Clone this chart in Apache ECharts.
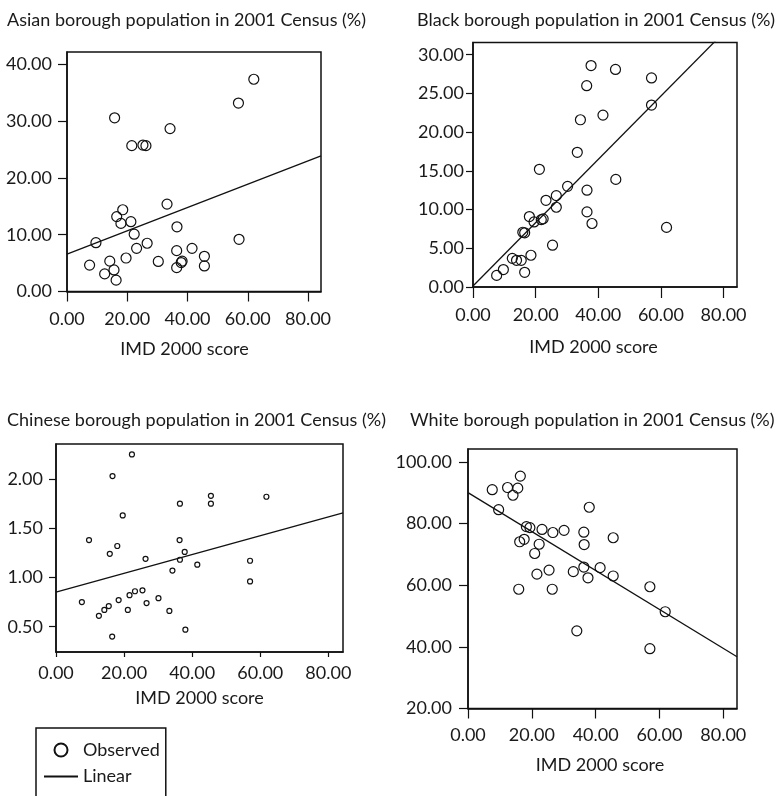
<!DOCTYPE html>
<html>
<head>
<meta charset="utf-8">
<script src="https://cdn.jsdelivr.net/npm/echarts@6/dist/echarts.min.js"></script>
<style>
  html, body { margin: 0; padding: 0; background: #fff; }
  #chart { width: 778px; height: 796px; }
</style>
</head>
<body>
<div id="chart"></div>
<script>
// IMD 2000 score vs borough population share, 2001 Census
const xTicks = [0, 20, 40, 60, 80];

const asianX = [7.5, 9.6, 12.5, 14.2, 15.6, 15.8, 16.3, 16.5, 17.9, 18.5, 19.6, 21.2, 21.5, 22.3, 23.1, 25.2, 26.2, 26.6, 30.3, 33.2, 34.2, 36.4, 36.4, 36.5, 37.9, 38.2, 41.5, 45.6, 45.6, 56.9, 57.1, 62.0];
const asianY = [4.65, 8.6, 3.1, 5.35, 3.8, 30.6, 2.0, 13.2, 12.0, 14.4, 5.9, 12.3, 25.7, 10.1, 7.6, 25.8, 25.7, 8.5, 5.3, 15.4, 28.7, 4.2, 7.2, 11.4, 5.1, 5.35, 7.6, 6.2, 4.5, 33.2, 9.2, 37.4];
const asianFit = [[0, 6.6], [84.3, 23.9]];
const asianTicks = [0, 10, 20, 30, 40];

const blackX = [7.55, 9.7, 12.55, 13.9, 15.4, 16.5, 15.9, 16.5, 18.5, 18.0, 19.5, 21.2, 21.8, 22.4, 23.3, 25.4, 26.6, 26.6, 30.2, 33.3, 34.3, 36.3, 36.4, 36.4, 37.7, 38.0, 41.5, 45.5, 45.6, 57.0, 57.0, 61.8];
const blackY = [1.5, 2.25, 3.7, 3.45, 3.45, 1.9, 7.07, 7.0, 4.1, 9.1, 8.4, 15.2, 8.7, 8.8, 11.2, 5.4, 11.8, 10.3, 13.0, 17.4, 21.6, 26.0, 12.5, 9.7, 28.6, 8.2, 22.2, 28.1, 13.9, 27.0, 23.5, 7.7];
const blackFit = [[0, 0.13], [84.3, 34.6]];
const blackTicks = [0, 5, 10, 15, 20, 25, 30];

const chineseX = [7.6, 9.7, 12.6, 14.2, 15.5, 15.8, 16.5, 16.6, 18.0, 18.4, 19.6, 21.1, 21.6, 22.3, 23.2, 25.4, 26.3, 26.6, 30.1, 33.3, 34.2, 36.4, 36.3, 36.4, 37.8, 38.0, 41.5, 45.5, 45.5, 57.0, 57.0, 61.8];
const chineseY = [0.75, 1.38, 0.61, 0.67, 0.71, 1.24, 0.40, 2.03, 1.32, 0.77, 1.63, 0.67, 0.82, 2.25, 0.86, 0.87, 1.19, 0.74, 0.79, 0.66, 1.07, 1.75, 1.38, 1.18, 1.26, 0.47, 1.13, 1.83, 1.75, 1.17, 0.96, 1.82];
const chineseFit = [[0, 0.852], [84.3, 1.657]];
const chineseTicks = [0.5, 1.0, 1.5, 2.0];

const whiteX = [7.6, 9.6, 12.4, 14.1, 15.6, 16.4, 15.9, 16.2, 17.6, 18.3, 19.4, 20.9, 21.6, 22.3, 23.2, 25.4, 26.4, 26.6, 30.1, 33.0, 34.1, 36.3, 36.4, 36.3, 37.6, 38.0, 41.4, 45.5, 45.5, 57.0, 57.0, 61.8];
const whiteY = [91.0, 84.5, 91.7, 89.2, 91.5, 95.4, 58.7, 74.1, 74.9, 79.0, 78.7, 70.3, 63.6, 73.3, 78.1, 64.9, 58.7, 77.1, 77.8, 64.4, 45.2, 77.2, 73.2, 65.9, 62.4, 85.3, 65.7, 75.4, 63.0, 59.5, 39.4, 51.4];
const whiteFit = [[0, 90.05], [84.3, 36.8]];
const whiteTicks = [20, 40, 60, 80, 100];

const FONT = 'Lato';
const INK = '#1a1a1a';

// one entry per panel: grid box in px, y range, tick/label spacing, shift of the x axis name
const panels = [
  { title: 'Asian borough population in 2001 Census (%)', tl: 7, tt: 11, box: [67, 52, 254, 239.5], ymin: 0, ymax: 42.2, yt: asianTicks, xs: asianX, ys: asianY, fit: asianFit, sym: 10, shift: 19, xtick: 10, xm: 19, ng: 48.5, ytick: 9, ym: 15 },
  { title: 'Black borough population in 2001 Census (%)', tl: 417, tt: 11, box: [473, 42.5, 264, 244.5], ymin: 0, ymax: 31.58, yt: blackTicks, xs: blackX, ys: blackY, fit: blackFit, sym: 10, shift: 23, xtick: 11, xm: 19, ng: 51.5, ytick: 7, ym: 9 },
  { title: 'Chinese borough population in 2001 Census (%)', tl: 7, tt: 411, box: [56, 444, 287, 208], ymin: 0.243, ymax: 2.356, yt: chineseTicks, xs: chineseX, ys: chineseY, fit: chineseFit, sym: 5, shift: 0, xtick: 5, xm: 12, ng: 37, ytick: 7, ym: 13 },
  { title: 'White borough population in 2001 Census (%)', tl: 410, tt: 411, box: [468, 449, 269, 259.5], ymin: 20, ymax: 104.2, yt: whiteTicks, xs: whiteX, ys: whiteY, fit: whiteFit, sym: 10, shift: 5, xtick: 10, xm: 17.5, ng: 47.5, ytick: 9, ym: 16 }
];

const fmt = v => v.toFixed(2);
const textStyle = { fontFamily: FONT, fontSize: 18, color: INK };

const title = [], grid = [], xAxis = [], yAxis = [], series = [];
panels.forEach((p, i) => {
  title.push({
    text: p.title, left: p.tl, top: p.tt, padding: 0,
    textStyle: { fontFamily: FONT, fontSize: 18, fontWeight: 'normal', color: INK, lineHeight: 18 }
  });
  grid.push({
    left: p.box[0], top: p.box[1], width: p.box[2], height: p.box[3],
    show: true, borderColor: '#111', borderWidth: 1.5, backgroundColor: '#fff'
  });
  xAxis.push({
    type: 'value', gridIndex: i, min: 0, max: 84.3,
    name: 'IMD 2000 score', nameLocation: 'middle', nameGap: p.ng,
    nameTextStyle: Object.assign({ padding: [0, p.shift, 0, 0] }, textStyle),
    axisLine: { show: true, lineStyle: { color: '#111', width: 1.5 } },
    axisTick: { show: true, length: p.xtick, customValues: xTicks, lineStyle: { color: '#111', width: 1.2 } },
    axisLabel: Object.assign({ customValues: xTicks, formatter: fmt, margin: p.xm }, textStyle),
    splitLine: { show: false }
  });
  yAxis.push({
    type: 'value', gridIndex: i, min: p.ymin, max: p.ymax,
    axisLine: { show: true, lineStyle: { color: '#111', width: 1.5 } },
    axisTick: { show: true, length: p.ytick, customValues: p.yt, lineStyle: { color: '#111', width: 1.2 } },
    axisLabel: Object.assign({ customValues: p.yt, formatter: fmt, margin: p.ym }, textStyle),
    splitLine: { show: false }
  });
  series.push({
    name: 'Observed', type: 'scatter', xAxisIndex: i, yAxisIndex: i,
    symbol: 'circle', symbolSize: p.sym,
    itemStyle: { color: 'rgba(255,255,255,0)', borderColor: '#111', borderWidth: 1.2, opacity: 1 },
    data: p.xs.map((x, k) => [x, p.ys[k]]),
    silent: true, z: 3
  });
  series.push({
    name: 'Linear', type: 'line', xAxisIndex: i, yAxisIndex: i,
    symbol: 'none', showSymbol: false, clip: true,
    itemStyle: { color: '#111' },
    lineStyle: { color: '#111', width: 1.3 },
    data: p.fit, silent: true, z: 2
  });
});

const chart = echarts.init(document.getElementById('chart'), null, { renderer: 'canvas' });
chart.setOption({
  animation: false,
  backgroundColor: '#fff',
  title: title,
  grid: grid,
  xAxis: xAxis,
  yAxis: yAxis,
  legend: {
    orient: 'vertical', left: 36, top: 728, height: 160,
    padding: [13, 6, 40, 7], itemGap: 8.5,
    itemWidth: 34, itemHeight: 13,
    borderColor: '#111', borderWidth: 1.5,
    selectedMode: false,
    textStyle: textStyle,
    data: [
      { name: 'Observed' },
      { name: 'Linear', itemStyle: { opacity: 0 } }
    ]
  },
  series: series
});
</script>
</body>
</html>
